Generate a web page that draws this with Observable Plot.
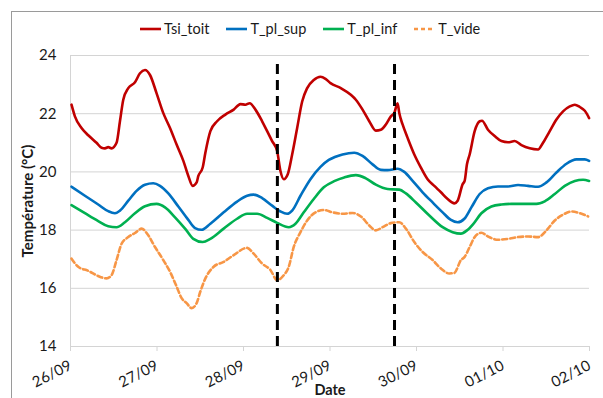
<!DOCTYPE html>
<html><head><meta charset="utf-8">
<script src="https://cdn.jsdelivr.net/npm/d3@7"></script>
<script src="https://cdn.jsdelivr.net/npm/@observablehq/plot@0.6"></script>
<style>
html,body{margin:0;padding:0;background:#fff;}
#wrap{position:relative;width:603px;height:398px;overflow:hidden;font-family:Lato,"Open Sans",sans-serif;}
#frame{position:absolute;left:11px;top:11px;width:700px;height:500px;border-left:1px solid #9a9a9a;border-top:1px solid #9a9a9a;}
#legend{position:absolute;left:140px;top:19px;display:flex;gap:17px;font-size:14.5px;color:#1a1a1a;line-height:20px;}
.item{display:flex;align-items:center;gap:3px;}
#chart{position:absolute;left:0;top:40px;}
</style></head><body>
<div id="wrap"><div id="frame"></div><div id="legend"></div><div id="chart"></div></div>
<script>
const seriesNames = ["Tsi_toit", "T_pl_sup", "T_pl_inf", "T_vide"];
const seriesColors = ["#C00000", "#0070C0", "#00B050", "#F79646"];
const dayLabels = ["26/09", "27/09", "28/09", "29/09", "30/09", "01/10", "02/10"];
const yTicks = [14, 16, 18, 20, 22, 24];

// hours since 26/09 00:00
const tsiHours = [0.28,1.22,3.06,4.92,7.22,8.61,9.56,10.47,11.39,12.78,13.72,14.64,16.03,17.89,19.28,20.67,22.06,23.89,25.75,27.61,29.44,31.31,32.69,33.89,35.0,35.47,36.67,37.42,38.81,40.67,42.97,45.28,47.14,48.53,49.72,51.31,53.17,54.56,55.94,57.33,58.25,59.17,60.28,61.5,62.89,64.28,65.67,67.5,69.36,70.75,72.14,75.0,77.78,79.17,81.03,82.89,84.72,86.11,87.5,88.89,89.83,90.75,91.22,92.14,93.53,95.39,97.22,99.08,100.94,102.78,104.64,106.5,107.42,108.81,109.36,110.0,110.75,112.14,113.53,114.17,115.83,117.69,119.56,121.39,123.25,125.11,127.42,129.72,131.11,132.97,134.83,136.67,138.53,139.92,141.31,142.69,143.89];
const tsiValues = [22.31,21.91,21.51,21.26,21.0,20.83,20.81,20.85,20.81,21.0,21.74,22.48,22.88,23.08,23.39,23.5,23.33,22.70,22.02,21.51,20.94,20.38,19.86,19.52,19.64,19.86,20.15,20.66,21.40,21.74,21.97,22.14,22.33,22.31,22.36,22.14,21.74,21.40,21.06,20.72,20.03,19.75,19.92,20.6,21.51,22.42,22.88,23.16,23.27,23.2,23.05,22.88,22.65,22.48,22.14,21.74,21.42,21.45,21.63,21.91,22.02,22.36,22.02,21.63,21.17,20.6,20.15,19.75,19.52,19.3,19.07,18.92,19.01,19.58,19.69,20.26,20.6,21.40,21.74,21.76,21.45,21.23,21.06,21.02,21.06,20.92,20.81,20.77,21.0,21.40,21.80,22.08,22.25,22.31,22.23,22.1,21.85];

const supHours = [0.28,4.0,7.69,10.47,12.33,13.72,16.03,18.33,20.67,22.97,24.83,27.14,29.92,32.69,34.56,36.39,38.81,42.5,46.22,49.0,50.83,53.17,55.94,58.25,60.11,61.5,63.81,66.58,69.36,71.67,73.33,75.47,78.72,81.03,83.81,86.11,87.97,90.75,92.61,94.92,97.69,100.47,103.25,105.56,107.42,109.28,111.22,113.53,115.83,118.61,121.39,124.17,126.94,129.72,132.06,134.83,137.61,140.39,142.69,143.89];
const supValues = [19.49,19.18,18.88,18.65,18.58,18.67,19.01,19.35,19.56,19.61,19.52,19.26,18.81,18.35,18.07,18.01,18.22,18.61,18.98,19.18,19.22,19.1,18.84,18.64,18.56,18.67,19.18,19.75,20.17,20.41,20.51,20.6,20.66,20.55,20.26,20.07,20.06,20.11,20.0,19.69,19.3,18.95,18.61,18.35,18.27,18.39,18.78,19.24,19.44,19.5,19.5,19.55,19.52,19.49,19.64,19.98,20.28,20.43,20.43,20.38];

const infHours = [0.28,4.0,7.69,10.47,12.78,15.11,17.89,20.67,23.89,26.22,29.0,31.78,34.08,36.67,38.81,42.5,46.22,49.0,51.78,54.56,57.33,60.56,62.42,64.72,67.5,70.28,73.33,75.94,79.17,81.94,84.72,87.97,91.22,93.06,95.83,99.56,103.25,106.03,108.33,110.0,111.67,114.0,116.78,119.56,122.33,125.11,129.28,131.58,134.36,137.14,139.92,142.22,143.89];
const infValues = [18.86,18.58,18.31,18.13,18.1,18.27,18.58,18.82,18.9,18.78,18.44,18.05,17.7,17.59,17.7,18.05,18.39,18.56,18.56,18.42,18.25,18.1,18.22,18.61,19.07,19.47,19.69,19.81,19.89,19.78,19.56,19.41,19.39,19.26,18.95,18.5,18.1,17.93,17.88,17.99,18.2,18.58,18.81,18.88,18.9,18.9,18.9,18.99,19.24,19.52,19.69,19.73,19.69];

const videHours = [0.28,2.14,4.92,7.69,10.0,11.39,12.78,14.17,16.03,17.89,19.72,21.58,23.44,25.75,27.61,29.44,30.83,32.22,33.61,35.0,36.03,37.42,39.72,42.5,45.28,49.0,50.83,53.17,55.47,57.33,59.17,60.56,61.94,63.81,65.67,67.97,70.28,72.69,75.47,78.25,80.56,82.89,84.72,86.58,88.89,91.22,93.06,95.39,97.69,100.47,102.78,105.11,106.5,108.33,109.36,110.75,112.14,114.0,115.83,118.61,121.39,124.17,126.94,129.72,132.06,134.36,136.67,139.0,141.31,143.61];
const videValues = [17.02,16.74,16.6,16.42,16.34,16.45,16.97,17.53,17.76,17.9,18.05,17.82,17.42,16.97,16.57,16.06,15.66,15.49,15.32,15.49,15.89,16.34,16.74,16.91,17.14,17.39,17.19,16.85,16.63,16.28,16.45,16.74,17.42,17.93,18.33,18.61,18.69,18.61,18.56,18.59,18.47,18.16,17.99,18.1,18.24,18.27,18.05,17.59,17.25,16.97,16.68,16.51,16.53,16.97,17.08,17.42,17.76,17.91,17.78,17.67,17.7,17.76,17.78,17.76,17.99,18.33,18.53,18.64,18.58,18.47];

// vertical dashed event markers
const eventHours = [57.4, 89.9];
const eventTops = [23.9, 23.75];

const start = Date.UTC(2015, 8, 26);
const toDate = h => new Date(start + h * 3600e3);
const hoursList = [tsiHours, supHours, infHours, videHours];
const valuesList = [tsiValues, supValues, infValues, videValues];
const data = [];
seriesNames.forEach((name, s) => {
  hoursList[s].forEach((h, i) => data.push({series: name, date: toDate(h), value: valuesList[s][i]}));
});
const dayTicks = dayLabels.map((_, i) => new Date(start + i * 864e5));
const events = eventHours.map((h, i) => ({date: toDate(h), top: eventTops[i]}));

const lineMarks = seriesNames.map((name, s) => Plot.line(data.filter(d => d.series === name), {
  x: "date", y: "value", stroke: seriesColors[s], strokeWidth: 2.6, curve: "monotone-x",
  strokeDasharray: name === "T_vide" ? "5,3" : null
}));

const chart = Plot.plot({
  width: 603, height: 358,
  marginLeft: 70, marginRight: 14, marginTop: 15, marginBottom: 52,
  x: {type: "utc", domain: [dayTicks[0], dayTicks[dayTicks.length - 1]]},
  y: {domain: [14, 24]},
  style: {fontFamily: "Lato, 'Open Sans', sans-serif", fontSize: "15px", color: "#1a1a1a", overflow: "visible", background: "transparent"},
  marks: [
    Plot.ruleY(yTicks, {stroke: "#d4d4d4", strokeWidth: 1}),
    Plot.ruleX([dayTicks[0]], {y1: 14, y2: 24, stroke: "#d4d4d4"}),
    Plot.axisY({ticks: yTicks, tickSize: 0, tickPadding: 14, label: null, fontSize: 15}),
    Plot.axisX({ticks: dayTicks, tickSize: 5, tickPadding: 13, tickRotate: -27, stroke: "#d4d4d4", fill: "#1a1a1a", fontSize: 15,
      tickFormat: d => dayLabels[Math.round((d - start) / 864e5)], label: null}),
    Plot.text(["Température (°C)"], {frameAnchor: "left", dx: -42, rotate: -90, textAnchor: "middle", lineAnchor: "middle", fontWeight: "bold", fontSize: 15}),
    Plot.text(["Date"], {frameAnchor: "bottom", dy: 44, textAnchor: "middle", lineAnchor: "middle", fontWeight: "bold", fontSize: 14.5}),
    ...lineMarks,
    Plot.ruleX(events, {x: "date", y1: 14, y2: "top", stroke: "#000", strokeWidth: 3, strokeDasharray: "10,6"})
  ]
});
document.getElementById("chart").appendChild(chart);

const legend = document.getElementById("legend");
seriesNames.forEach((name, s) => {
  const item = document.createElement("div");
  item.className = "item";
  const dash = name === "T_vide" ? ' stroke-dasharray="4,3"' : "";
  item.innerHTML = `<svg width="21" height="6"><line x1="0" y1="3" x2="21" y2="3" stroke="${seriesColors[s]}" stroke-width="2.6"${dash}/></svg><span>${name}</span>`;
  legend.appendChild(item);
});
</script>
</body></html>
